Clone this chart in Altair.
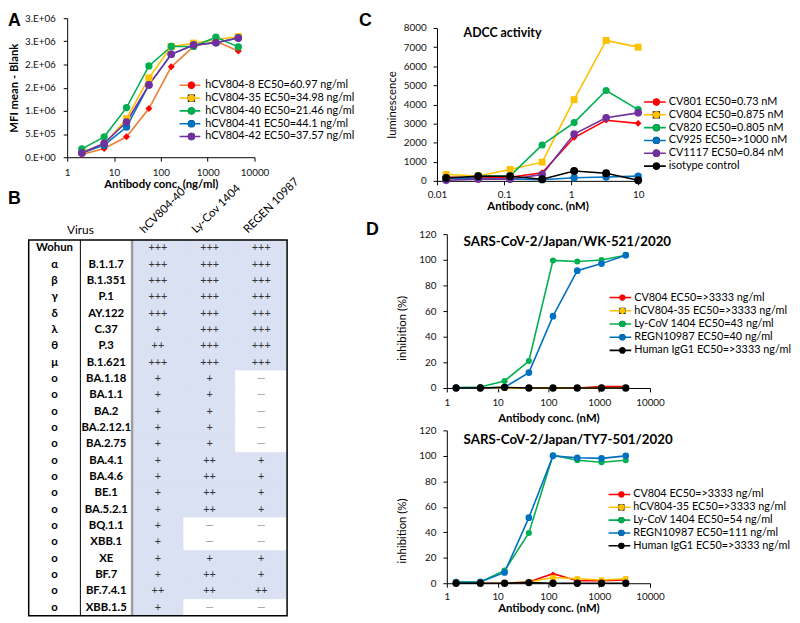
import math
import altair as alt
import pandas as pd

FONT = "Lato"
RED, GOLD, GREEN, BLUE, PURPLE, BLACK, ORANGE = "#FF0000", "#FFC000", "#00B050", "#0070C0", "#7030A0", "#000000", "#ED7D31"
CELL_BLUE = "#D9E1F2"
DASH = "—"

# ---------------- Panel A : binding ----------------
A_DOSE = [2.06, 6.17, 18.5, 55.6, 166.7, 500, 1500, 4500]
A_SERIES = ["hCV804-8 EC50=60.97 ng/ml", "hCV804-35 EC50=34.98 ng/ml", "hCV804-40 EC50=21.46 ng/ml",
            "hCV804-41 EC50=44.1 ng/ml", "hCV804-42 EC50=37.57 ng/ml"]
A_HCV804_8 = [60000, 190000, 440000, 1050000, 1950000, 2390000, 2500000, 2290000]
A_HCV804_35 = [110000, 280000, 830000, 1710000, 2390000, 2460000, 2540000, 2600000]
A_HCV804_40 = [180000, 440000, 1070000, 1970000, 2390000, 2390000, 2590000, 2380000]
A_HCV804_41 = [90000, 260000, 650000, 1560000, 2220000, 2420000, 2470000, 2570000]
A_HCV804_42 = [90000, 300000, 760000, 1560000, 2220000, 2420000, 2470000, 2570000]
A_X_TICKS = [1, 10, 100, 1000, 10000]
A_Y_TICKS = [0, 500000, 1000000, 1500000, 2000000, 2500000, 3000000]
A_Y_LABELS = ["0.E+00", "5.E+05", "1.E+06", "2.E+06", "2.E+06", "3.E+06", "3.E+06"]

# ---------------- Panel C : ADCC ----------------
C_DOSE = [0.0137, 0.0412, 0.123, 0.370, 1.11, 3.33, 10]
C_SERIES = ["CV801 EC50=0.73 nM", "CV804 EC50=0.875 nM", "CV820 EC50=0.805 nM",
            "CV925 EC50=>1000 nM", "CV1117 EC50=0.84 nM", "isotype control"]
C_CV801 = [200, 150, 190, 430, 2270, 3170, 3010]
C_CV804 = [330, 260, 600, 980, 4250, 7350, 7000]
C_CV820 = [90, 260, 260, 1880, 3050, 4730, 3730]
C_CV925 = [150, 120, 100, 60, 160, 200, 250]
C_CV1117 = [30, 90, 90, 330, 2450, 3300, 3560]
C_ISOTYPE = [150, 240, 240, 90, 520, 400, 30]
C_X_TICKS = [0.01, 0.1, 1, 10]
C_Y_TICKS = [0, 1000, 2000, 3000, 4000, 5000, 6000, 7000, 8000]

# ---------------- Panel D : neutralisation ----------------
D_DOSE = [1.52, 4.57, 13.7, 41.2, 123, 370, 1111, 3333]
D_SERIES_WK = ["CV804 EC50=>3333 ng/ml", "hCV804-35 EC50=>3333 ng/ml", "Ly-CoV 1404 EC50=43 ng/ml",
               "REGN10987 EC50=40 ng/ml", "Human IgG1 EC50=>3333 ng/ml"]
D_SERIES_TY = ["CV804 EC50=>3333 ng/ml", "hCV804-35 EC50=>3333 ng/ml", "Ly-CoV 1404 EC50=54 ng/ml",
               "REGN10987 EC50=111 ng/ml", "Human IgG1 EC50=>3333 ng/ml"]
WK_CV804 = [0, 0, 0, 0, 0, 0, 1.2, 1.2]
WK_HCV804_35 = [0, 0, 0, 0, 0, 0, 0, 0]
WK_LY1404 = [0.3, 0.8, 5.5, 21, 99.5, 98.7, 99.8, 103.6]
WK_REGN = [0, 0, 0.5, 12, 56, 91.5, 97, 103.6]
WK_IGG1 = [0, 0, 0.5, 0, 0, 0, 0, 0]
TY_CV804 = [0, 0, 0, 1, 7.5, 2, 2, 2.5]
TY_HCV804_35 = [0, 0, 0, 1, 4.5, 3.5, 2.5, 3.5]
TY_LY1404 = [1, 1, 10, 39.5, 100.5, 96.5, 95, 96.5]
TY_REGN = [0.8, 1, 8.5, 51.5, 100, 98.5, 98, 100]
TY_IGG1 = [0, 0, 0, 0.5, 0, 0, 0, 0]
D_X_TICKS = [1, 10, 100, 1000, 10000]
D_Y_TICKS = [0, 20, 40, 60, 80, 100, 120]

# ---------------- Panel B : table ----------------
B_ANTIBODIES = ["hCV804-40", "Ly-Cov 1404", "REGEN 10987"]
B_VARIANT = ["Wohun", "α", "β", "γ", "δ", "λ", "θ", "μ", "o", "o", "o", "o", "o", "o", "o", "o",
             "o", "o", "o", "o", "o", "o", "o"]
B_LINEAGE = ["", "B.1.1.7", "B.1.351", "P.1", "AY.122", "C.37", "P.3", "B.1.621", "BA.1.18", "BA.1.1",
             "BA.2", "BA.2.12.1", "BA.2.75", "BA.4.1", "BA.4.6", "BE.1", "BA.5.2.1", "BQ.1.1", "XBB.1",
             "XE", "BF.7", "BF.7.4.1", "XBB.1.5"]
B_HCV804_40 = ["+++", "+++", "+++", "+++", "+++", "+", "++", "+++", "+", "+", "+", "+", "+", "+", "+",
               "+", "+", "+", "+", "+", "+", "++", "+"]
B_LYCOV1404 = ["+++", "+++", "+++", "+++", "+++", "+++", "+++", "+++", "+", "+", "+", "+", "+", "++",
               "++", "++", "++", DASH, DASH, "+", "++", "++", DASH]
B_REGEN10987 = ["+++", "+++", "+++", "+++", "+++", "+++", "+++", "+++", DASH, DASH, DASH, DASH, DASH,
                "+", "+", "+", "+", DASH, DASH, "+", "+", "++", DASH]

TICK_FS = 10
TITLE_FS = 11.5
LEG_FS = 11
ENTRY_H = 13


def letter(txt, x, y, baseline="top"):
    return alt.Chart(pd.DataFrame({"t": [txt]})).mark_text(
        font="Liberation Sans", fontSize=18, fontWeight="bold", align="left", baseline=baseline, color=BLACK
    ).encode(text="t:N", x=alt.value(x), y=alt.value(y))


def inner_title(txt, x, y, size):
    return alt.Chart(pd.DataFrame({"t": [txt]})).mark_text(
        font=FONT, fontSize=size, fontWeight="bold", align="left", baseline="middle", color=BLACK
    ).encode(text="t:N", x=alt.value(x), y=alt.value(y))


def curve_panel(doses, names, series_vals, line_colors, pt_colors, shapes, sizes, leg_sym,
                xscale, yscale, xaxis, yaxis, width, height,
                sym_left, label_start, row0, pitch, sym_len, extras):
    rows = []
    for name, vals in zip(names, series_vals):
        for d, v in zip(doses, vals):
            rows.append({"dose": d, "val": v, "sl": name, "sp": name})
    df = pd.DataFrame(rows)
    base = alt.Chart(df)
    x = alt.X("dose:Q", scale=xscale, axis=xaxis)
    y = alt.Y("val:Q", scale=yscale, axis=yaxis)
    sw = 1.6
    d_line = math.ceil(sym_len + sw)
    leg_x = sym_left - (d_line / 2 - sym_len / 2)
    lab_off = label_start - leg_x - d_line
    leg_y = row0 - ENTRY_H / 2
    d_pt = math.ceil(math.sqrt(leg_sym))
    common = dict(orient="none", legendY=leg_y, title=None, labelFont=FONT, labelFontSize=LEG_FS,
                  labelLimit=400, rowPadding=pitch - ENTRY_H, padding=0, clipHeight=ENTRY_H)
    line_leg = alt.Legend(legendX=leg_x, symbolType="stroke", symbolSize=sym_len ** 2,
                          symbolStrokeWidth=sw, labelColor=BLACK, labelOffset=lab_off, **common)
    pt_leg = alt.Legend(legendX=leg_x + d_line / 2 - d_pt / 2, labelExpr="''", symbolStrokeWidth=0,
                        symbolSize=leg_sym, labelOffset=0, **common)
    lines = base.mark_line(strokeWidth=sw).encode(
        x=x, y=y,
        stroke=alt.Stroke("sl:N", scale=alt.Scale(domain=names, range=line_colors), legend=line_leg))
    pts = base.mark_point(filled=True, opacity=1, strokeWidth=0).encode(
        x=x, y=y,
        fill=alt.Fill("sp:N", sort=names, scale=alt.Scale(range=pt_colors), legend=pt_leg),
        shape=alt.Shape("sp:N", sort=names, scale=alt.Scale(range=shapes), legend=pt_leg),
        size=alt.Size("sp:N", sort=names, scale=alt.Scale(range=sizes), legend=None))
    return alt.layer(lines, pts, *extras).properties(width=width, height=height)


def label_expr(ticks, labels):
    arr = "[" + ",".join("'" + s + "'" for s in labels) + "]"
    vals = "[" + ",".join(str(v) for v in ticks) + "]"
    return f"{arr}[indexof({vals}, datum.value)]"


AX = dict(grid=False, labelFlush=False, labelOverlap=False, tickSize=4, labelFontSize=TICK_FS,
          titleFontSize=TITLE_FS, labelColor="#111111", titleColor=BLACK)

# ---- A ----
chart_a = curve_panel(
    A_DOSE, A_SERIES, [A_HCV804_8, A_HCV804_35, A_HCV804_40, A_HCV804_41, A_HCV804_42],
    [ORANGE, GOLD, GREEN, BLUE, PURPLE], [RED, GOLD, GREEN, BLUE, PURPLE],
    ["diamond", "square", "circle", "circle", "circle"], [50, 60, 72, 32, 50], 55,
    alt.Scale(type="log", domain=[1, 10000], nice=False),
    alt.Scale(domain=[0, 3000000], nice=False, zero=False),
    alt.Axis(values=A_X_TICKS, format="d", title="Antibody conc. (ng/ml)", titleFontWeight="bold",
             labelPadding=7, titleY=28, titleBaseline="middle", **AX),
    alt.Axis(values=A_Y_TICKS, labelExpr=label_expr(A_Y_TICKS, A_Y_LABELS), title="MFI mean - Blank",
             titleFontWeight="bold", labelPadding=8, titleX=-53, titleBaseline="middle", **AX),
    190, 141, sym_left=114, label_start=140, row0=68, pitch=12.3, sym_len=21,
    extras=[letter("A", -60, -6)])

# ---- C ----
chart_c = curve_panel(
    C_DOSE, C_SERIES, [C_CV801, C_CV804, C_CV820, C_CV925, C_CV1117, C_ISOTYPE],
    [RED, GOLD, GREEN, BLUE, PURPLE, BLACK], [RED, GOLD, GREEN, BLUE, PURPLE, BLACK],
    ["diamond", "square", "circle", "circle", "circle", "circle"], [45, 64, 81, 28, 45, 36], 55,
    alt.Scale(type="log", domain=[0.01, 10], range=[-10, 194], nice=False),
    alt.Scale(domain=[0, 8000], range=[165, 10], nice=False, zero=False),
    alt.Axis(values=C_X_TICKS, format="~g", title="Antibody conc. (nM)", titleFontWeight="bold",
             labelPadding=4.5, titleY=26, titleBaseline="middle", **AX),
    alt.Axis(values=C_Y_TICKS, format="d", title="luminescence", titleFontWeight="normal", offset=10,
             labelPadding=7, titleX=-45.5, titleBaseline="middle", **AX),
    194, 165, sym_left=200, label_start=225, row0=85, pitch=13, sym_len=22,
    extras=[letter("C", -89, -6), inner_title("ADCC activity", 17, 15, 12.5)])

# ---- D top ----
D_COLORS = [RED, GOLD, GREEN, BLUE, BLACK]
D_SHAPES = ["diamond", "square", "circle", "circle", "circle"]
D_SIZES = [20, 55, 55, 22, 22]
chart_d1 = curve_panel(
    D_DOSE, D_SERIES_WK, [WK_CV804, WK_HCV804_35, WK_LY1404, WK_REGN, WK_IGG1],
    D_COLORS, D_COLORS, D_SHAPES, D_SIZES, 40,
    alt.Scale(type="log", domain=[1, 10000], nice=False),
    alt.Scale(domain=[0, 120], range=[156, 0], nice=False, zero=False),
    alt.Axis(values=D_X_TICKS, format="d", title="Antibody conc. (nM)", titleFontWeight="bold",
             offset=11, labelPadding=5.5, titleY=31, titleBaseline="middle", **AX),
    alt.Axis(values=D_Y_TICKS, format="d", title="inhibition (%)", titleFontWeight="normal",
             labelPadding=7, titleX=-45, titleY=95, titleBaseline="middle", **AX),
    206, 145, sym_left=165, label_start=190, row0=64.3, pitch=13.4, sym_len=22,
    extras=[letter("D", -82, -4, "middle"), inner_title("SARS-CoV-2/Japan/WK-521/2020", 17, 7.7, 13.5)])

# ---- D bottom ----
chart_d2 = curve_panel(
    D_DOSE, D_SERIES_TY, [TY_CV804, TY_HCV804_35, TY_LY1404, TY_REGN, TY_IGG1],
    D_COLORS, D_COLORS, D_SHAPES, D_SIZES, 40,
    alt.Scale(type="log", domain=[1, 10000], nice=False),
    alt.Scale(domain=[0, 120], nice=False, zero=False),
    alt.Axis(values=D_X_TICKS, format="d", title="Antibody conc. (nM)", titleFontWeight="bold",
             labelPadding=5, titleY=26, titleBaseline="middle", **AX),
    alt.Axis(values=D_Y_TICKS, format="d", title="inhibition (%)", titleFontWeight="normal",
             labelPadding=7, titleX=-45, titleY=101.5, titleBaseline="middle", **AX),
    206, 155, sym_left=164, label_start=189, row0=65, pitch=12.4, sym_len=22,
    extras=[inner_title("SARS-CoV-2/Japan/TY7-501/2020", 17, 10, 13.5)])

# ---- B table ----
bx = alt.Scale(domain=[0, 5], range=[-39, 223], nice=False, zero=False)
by = alt.Scale(domain=[0, 23], range=[6, 387], nice=False, zero=False)
cells = []
for r in range(len(B_VARIANT)):
    for c, col in enumerate([B_HCV804_40, B_LYCOV1404, B_REGEN10987]):
        cells.append({"x": c + 2, "x2": c + 3, "y": r, "y2": r + 1, "xc": c + 2.5, "yc": r + 0.5, "v": col[r]})
cells = pd.DataFrame(cells)
rowlab = pd.DataFrame({"yc": [r + 0.5 for r in range(len(B_VARIANT))], "g": B_VARIANT, "l": B_LINEAGE,
                       "x0": 0.5, "x1": 1.5})
is_dash = alt.datum.v == DASH
t_rect = alt.Chart(cells).mark_rect(strokeWidth=0.6).encode(
    x=alt.X("x:Q", scale=bx, axis=None), x2="x2:Q",
    y=alt.Y("y:Q", scale=by, axis=None), y2="y2:Q",
    fill=alt.condition(is_dash, alt.value("white"), alt.value(CELL_BLUE)),
    stroke=alt.condition(is_dash, alt.value("white"), alt.value(CELL_BLUE)))
t_vals = alt.Chart(cells).mark_text(font=FONT, fontSize=11, baseline="middle").encode(
    x=alt.X("xc:Q", scale=bx, axis=None), y=alt.Y("yc:Q", scale=by, axis=None), text="v:N",
    color=alt.condition(is_dash, alt.value("#9A9A9A"), alt.value("#333333")))
t_var = alt.Chart(rowlab).mark_text(font=FONT, fontSize=11.5, fontWeight="bold", baseline="middle",
                                    color=BLACK).encode(
    x=alt.X("x0:Q", scale=bx, axis=None), y=alt.Y("yc:Q", scale=by, axis=None), text="g:N")
t_lin = alt.Chart(rowlab).mark_text(font=FONT, fontSize=11.5, fontWeight="bold", baseline="middle",
                                    color=BLACK).encode(
    x=alt.X("x1:Q", scale=bx, axis=None), y=alt.Y("yc:Q", scale=by, axis=None), text="l:N")
hdr = pd.DataFrame({"x": [2.27, 3.27, 4.27], "y": -0.3, "t": B_ANTIBODIES})
t_hdr = alt.Chart(hdr).mark_text(font=FONT, fontSize=11.5, angle=315, align="left", baseline="bottom",
                                 color=BLACK).encode(
    x=alt.X("x:Q", scale=bx, axis=None), y=alt.Y("y:Q", scale=by, axis=None), text="t:N")
t_virus = alt.Chart(pd.DataFrame({"x": [1.0], "y": [-0.6], "t": ["Virus"]})).mark_text(
    font=FONT, fontSize=12, baseline="middle", color=BLACK).encode(
    x=alt.X("x:Q", scale=bx, axis=None), y=alt.Y("y:Q", scale=by, axis=None), text="t:N")
frame = pd.DataFrame({"x": [0], "x2": [5], "y": [0], "y2": [23]})
t_frame = alt.Chart(frame).mark_rect(fillOpacity=0, stroke=BLACK, strokeWidth=1.5).encode(
    x=alt.X("x:Q", scale=bx, axis=None), x2="x2:Q", y=alt.Y("y:Q", scale=by, axis=None), y2="y2:Q")
sep = pd.DataFrame({"x": [1], "y": [0], "y2": [23]})
t_sep1 = alt.Chart(sep).mark_rule(color=BLACK, strokeWidth=1).encode(
    x=alt.X("x:Q", scale=bx, axis=None), y=alt.Y("y:Q", scale=by, axis=None), y2="y2:Q")
sep2 = pd.DataFrame({"x": [2], "y": [0], "y2": [23]})
t_sep2 = alt.Chart(sep2).mark_rule(color="#9E9E9E", strokeWidth=2.5).encode(
    x=alt.X("x:Q", scale=bx, axis=None), y=alt.Y("y:Q", scale=by, axis=None), y2="y2:Q")
chart_b = alt.layer(t_rect, t_sep1, t_sep2, t_frame, t_vals, t_var, t_lin, t_hdr, t_virus,
                    letter("B", -60, -36, "middle")).properties(width=190, height=145)

blank = alt.Chart(pd.DataFrame({"v": [0]})).mark_point(opacity=0).encode(
    x=alt.X("v:Q", axis=None), y=alt.Y("v:Q", axis=None)).properties(width=190, height=10)

chart = alt.concat(chart_a, chart_c, chart_b, chart_d1, blank, chart_d2, columns=2,
                   spacing={"row": 54, "column": 195}, bounds="flush", align="each").resolve_scale(
    color="independent", fill="independent", stroke="independent", shape="independent",
    size="independent").properties(
    padding={"left": 0, "top": 0, "right": 0, "bottom": 0}, background="white"
).configure(font=FONT).configure_view(stroke=None).configure_axis(
    domainColor=BLACK, tickColor=BLACK, domainWidth=1, tickWidth=1, labelFont=FONT, titleFont=FONT
).configure_legend(labelFont=FONT)

chart.save("out.html", embed_options={"renderer": "svg", "actions": False})
